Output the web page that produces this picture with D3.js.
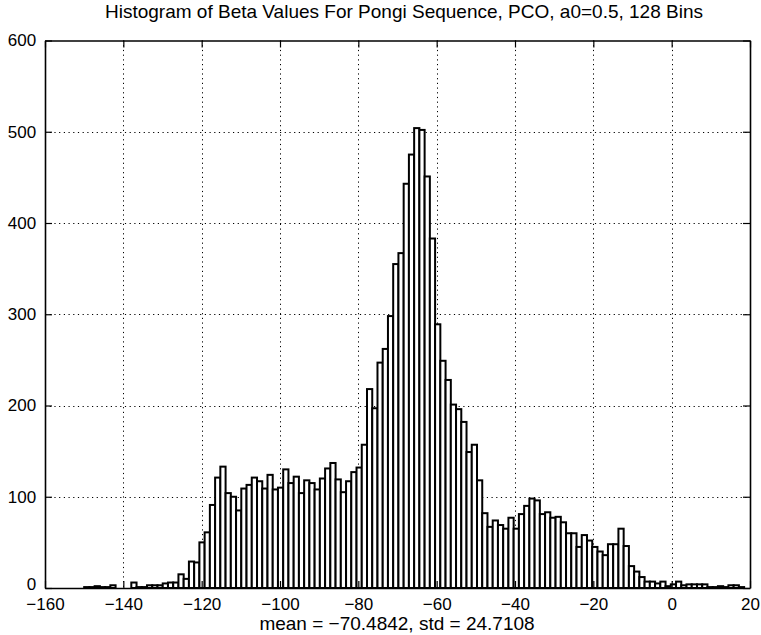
<!DOCTYPE html>
<html>
<head>
<meta charset="utf-8">
<script src="https://cdn.jsdelivr.net/npm/d3@7"></script>
<style>
  html, body { margin: 0; padding: 0; background: #fff; }
  svg { display: block; }
  text { font-family: "Liberation Sans", Arial, Helvetica, sans-serif; fill: #000; }
</style>
</head>
<body>
<svg id="chart" width="761" height="635"></svg>
<script>
// Histogram counts, 128 equal bins spanning [binMin, binMax]
const binMin = -150;
const binMax = 18.5;
const counts = [
  1, 1, 2, 1, 1, 3, 0, 0, 0, 6, 1, 1, 3, 3, 3, 5,
  6, 6, 15, 10, 29, 28, 50, 61, 91, 121, 133, 104, 100, 85, 109, 113,
  121, 117, 109, 124, 108, 110, 130, 115, 122, 104, 118, 115, 108, 120, 131, 137,
  119, 105, 117, 127, 132, 157, 218, 197, 247, 262, 298, 355, 367, 443,
  475, 504, 502, 451, 383, 289, 249, 228, 201, 196, 182, 149, 157, 118, 82, 67,
  74, 69, 65, 77, 65, 81, 90, 98, 96, 81, 83, 77, 78, 72, 60, 60,
  45, 58, 52, 45, 40, 36, 48, 48, 65, 46, 24, 18, 12, 7, 7, 5,
  7, 2, 4, 7, 3, 4, 4, 4, 4, 1, 1, 2, 1, 3, 3, 1
];

const xTicks = [-160, -140, -120, -100, -80, -60, -40, -20, 0, 20];
const yTicks = [0, 100, 200, 300, 400, 500, 600];
const xDomain = [-160, 20];
const yDomain = [0, 600];

const titleText = "Histogram of Beta Values For Pongi Sequence, PCO, a0=0.5, 128 Bins";
const xLabelText = "mean = \u221270.4842, std = 24.7108";

const svg = d3.select("#chart");
const plot = { left: 45, right: 750, top: 40.5, bottom: 588 };

const x = d3.scaleLinear().domain(xDomain).range([plot.left, plot.right]);
const y = d3.scaleLinear().domain(yDomain).range([plot.bottom, plot.top]);

// bin edges from the histogram range
const nBins = counts.length;
const binEdge = d3.scaleLinear().domain([0, nBins]).range([binMin, binMax]);

const fmt = d => (d < 0 ? "\u2212" + Math.abs(d) : String(d));

// dotted grid
const grid = svg.append("g").attr("stroke", "#000").attr("stroke-width", 1)
  .attr("stroke-dasharray", "1.2,3.5");
grid.selectAll("line.gx").data(xTicks.slice(1, -1)).join("line")
  .attr("x1", d => Math.round(x(d)) + 0.5).attr("x2", d => Math.round(x(d)) + 0.5)
  .attr("y1", plot.top).attr("y2", plot.bottom);
grid.selectAll("line.gy").data(yTicks.slice(1, -1)).join("line")
  .attr("y1", d => Math.round(y(d)) + 0.5).attr("y2", d => Math.round(y(d)) + 0.5)
  .attr("x1", plot.left).attr("x2", plot.right);

// histogram bars
svg.append("g")
  .selectAll("rect").data(counts).join("rect")
  .attr("x", (d, i) => x(binEdge(i)))
  .attr("width", (d, i) => x(binEdge(i + 1)) - x(binEdge(i)))
  .attr("y", d => y(d))
  .attr("height", d => y(0) - y(d))
  .attr("fill", "#fff")
  .attr("stroke", "#000")
  .attr("stroke-width", 2);

// axes with inward ticks, mirrored on top and right
const tickLen = 7;
const axB = svg.append("g").attr("transform", `translate(0,${plot.bottom})`)
  .call(d3.axisBottom(x).tickValues(xTicks).tickFormat(fmt).tickSizeInner(-tickLen).tickSizeOuter(0).tickPadding(10));
const axT = svg.append("g").attr("transform", `translate(0,${plot.top})`)
  .call(d3.axisTop(x).tickValues(xTicks).tickFormat("").tickSizeInner(-tickLen).tickSizeOuter(0));
const axL = svg.append("g").attr("transform", `translate(${plot.left},0)`)
  .call(d3.axisLeft(y).tickValues(yTicks).tickFormat(fmt).tickSizeInner(-tickLen).tickSizeOuter(0).tickPadding(8));
const axR = svg.append("g").attr("transform", `translate(${plot.right},0)`)
  .call(d3.axisRight(y).tickValues(yTicks).tickFormat("").tickSizeInner(-tickLen).tickSizeOuter(0));

[axB, axT, axL, axR].forEach(a => {
  a.selectAll(".domain").attr("stroke", "#000").attr("stroke-width", 1.6);
  a.selectAll(".tick line").attr("stroke", "#000").attr("stroke-width", 1.2);
  a.selectAll("text").attr("font-size", 17)
    .attr("font-family", "'Liberation Sans', Arial, sans-serif").attr("fill", "#000");
});
axL.selectAll("text").attr("dx", "-0.05em");
// lift the zero label a touch so it clears the first x label
axL.selectAll(".tick").filter(d => d === 0).select("text").attr("dy", "0.1em");

// title and x label
svg.append("text").attr("x", 404).attr("y", 18).attr("text-anchor", "middle")
  .attr("font-size", 19).text(titleText);
svg.append("text").attr("x", 397).attr("y", 630).attr("text-anchor", "middle")
  .attr("font-size", 19).text(xLabelText);
</script>
</body>
</html>
